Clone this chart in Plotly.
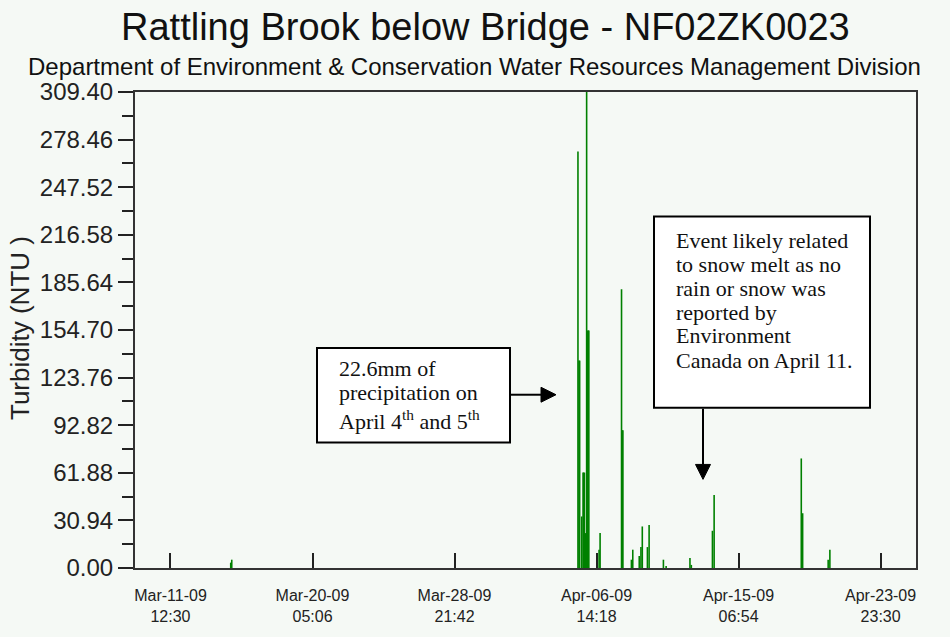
import plotly.graph_objects as go

# Turbidity readings (NTU) at Rattling Brook below Bridge, spring 2009
sample_times = [
    "2009-03-15 05:00", "2009-03-15 06:30",
    "2009-04-05 11:00", "2009-04-05 12:30", "2009-04-05 13:30",
    "2009-04-05 16:30", "2009-04-05 18:30", "2009-04-05 19:30",
    "2009-04-05 20:30", "2009-04-05 22:00", "2009-04-05 23:45",
    "2009-04-06 01:00", "2009-04-06 02:00", "2009-04-06 03:00",
    "2009-04-06 18:00", "2009-04-06 19:30",
    "2009-04-08 03:00", "2009-04-08 04:00", "2009-04-08 05:00",
    "2009-04-08 17:30", "2009-04-08 19:30",
    "2009-04-09 05:00", "2009-04-09 07:30", "2009-04-09 09:30",
    "2009-04-09 17:00", "2009-04-09 19:30",
    "2009-04-10 16:30", "2009-04-10 20:30",
    "2009-04-12 07:30", "2009-04-12 09:30",
    "2009-04-13 16:30", "2009-04-13 19:00",
    "2009-04-19 03:00", "2009-04-19 05:00",
    "2009-04-20 18:30", "2009-04-20 21:00",
]
turbidity_ntu = [
    3.5, 5.4,
    270.8, 134.8, 134.8,
    33.5, 62.0, 62.0,
    62.0, 22.7, 309.4,
    154.3, 154.3, 154.3,
    11.9, 22.7,
    181.2, 89.5, 89.5,
    5.4, 11.9,
    7.8, 13.6, 27.0,
    13.6, 28.0,
    5.4, 1.3,
    6.5, 2.0,
    24.2, 47.5,
    71.2, 35.6,
    5.4, 11.9,
]

# Axis ticks
x_tick_times = [
    "2009-03-11 12:30", "2009-03-20 05:06", "2009-03-28 21:42",
    "2009-04-06 14:18", "2009-04-15 06:54", "2009-04-23 23:30",
]
x_tick_labels = [
    "Mar-11-09<br>12:30", "Mar-20-09<br>05:06", "Mar-28-09<br>21:42",
    "Apr-06-09<br>14:18", "Apr-15-09<br>06:54", "Apr-23-09<br>23:30",
]
y_tick_values = [0.00, 30.94, 61.88, 92.82, 123.76, 154.70,
                 185.64, 216.58, 247.52, 278.46, 309.40]
y_tick_labels = [f"{v:.2f}" for v in y_tick_values]
y_minor_values = [(a + b) / 2 for a, b in zip(y_tick_values[:-1], y_tick_values[1:])]

x_range = ["2009-03-09 08:24", "2009-04-26 03:30"]

# Page geometry (pixels)
W, H = 950, 637
L, R, T, B = 135, 34, 92, 67
PW, PH = W - L - R, H - T - B


def px(x):
    return (x - L) / PW


def py(y):
    return (H - B - y) / PH


# Each reading drawn as a vertical stroke from zero up to its value
xs, ys = [], []
for t, v in zip(sample_times, turbidity_ntu):
    xs += [t, t, None]
    ys += [0, v, None]

bg = "#f5f9f5"
fig = go.Figure()
fig.add_trace(go.Scatter(
    x=xs, y=ys, mode="lines",
    line=dict(color="#008000", width=1.6),
    hoverinfo="skip", showlegend=False,
))

sans = "Liberation Sans, Arial, sans-serif"

fig.update_layout(
    width=W, height=H,
    margin=dict(l=L, r=R, t=T, b=B),
    paper_bgcolor=bg, plot_bgcolor=bg,
    showlegend=False,
    font=dict(family=sans, color="#222"),
)
fig.update_xaxes(
    type="date", range=x_range,
    tickmode="array", tickvals=x_tick_times, ticktext=x_tick_labels,
    ticks="inside", ticklen=15, tickwidth=2, tickcolor="#222",
    tickfont=dict(size=16, family=sans, color="#222"),
    ticklabelstandoff=12,
    showline=True, linecolor="#333", linewidth=2, mirror=True,
    showgrid=False, zeroline=False,
)
fig.update_yaxes(
    range=[0, 309.4],
    tickmode="array", tickvals=y_tick_values, ticktext=y_tick_labels,
    ticks="outside", ticklen=15, tickwidth=2, tickcolor="#222",
    minor=dict(tickmode="array", tickvals=y_minor_values,
               ticks="outside", ticklen=11, tickwidth=2, tickcolor="#222",
               showgrid=False),
    tickfont=dict(size=24, family=sans, color="#222"),
    showline=True, linecolor="#333", linewidth=2, mirror=True,
    showgrid=False, zeroline=False,
)

annotations = [
    dict(text="Rattling Brook below Bridge - NF02ZK0023",
         x=px(485.5), y=py(27), xref="paper", yref="paper",
         xanchor="center", yanchor="middle", showarrow=False,
         font=dict(size=38, family=sans, color="#111")),
    dict(text="Department of Environment &amp; Conservation Water Resources Management Division",
         x=px(474), y=py(66), xref="paper", yref="paper",
         xanchor="center", yanchor="middle", showarrow=False,
         font=dict(size=24, family=sans, color="#111")),
    dict(text="Turbidity (NTU )", textangle=-90,
         x=px(20), y=py(329), xref="paper", yref="paper",
         xanchor="center", yanchor="middle", showarrow=False,
         font=dict(size=26, family=sans, color="#222")),
]

serif = dict(size=22, family="Liberation Serif, Times New Roman, serif", color="#111")

# Note boxes
shapes = [
    dict(type="rect", xref="paper", yref="paper",
         x0=px(317), x1=px(510), y0=py(444), y1=py(349),
         line=dict(color="#000", width=2), fillcolor="#fff", layer="above"),
    dict(type="rect", xref="paper", yref="paper",
         x0=px(654), x1=px(870), y0=py(409), y1=py(217),
         line=dict(color="#000", width=2), fillcolor="#fff", layer="above"),
]

note1 = ["22.6mm of", "precipitation on", "April 4<sup>th</sup> and 5<sup>th</sup>"]
note1_y = [370, 394, 421]
for line, y in zip(note1, note1_y):
    annotations.append(dict(text=line, x=px(337), y=py(y), xref="paper", yref="paper",
                            xanchor="left", yanchor="middle", showarrow=False, font=serif))

note2 = ["Event likely related", "to snow melt as no", "rain or snow was",
         "reported by", "Environment", "Canada on April 11."]
note2_y = [241, 265, 289, 313, 337, 362]
for line, y in zip(note2, note2_y):
    annotations.append(dict(text=line, x=px(674), y=py(y), xref="paper", yref="paper",
                            xanchor="left", yanchor="middle", showarrow=False, font=serif))


def arrow(x0, y0, x1, y1, head=15):
    """Shaft from (x0, y0) to the tip (x1, y1), with a filled triangular head (pixels)."""
    dx, dy = x1 - x0, y1 - y0
    n = (dx * dx + dy * dy) ** 0.5
    ux, uy = dx / n, dy / n
    bx, by = x1 - ux * head, y1 - uy * head
    hw = head / 2
    p1 = (bx - uy * hw, by + ux * hw)
    p2 = (bx + uy * hw, by - ux * hw)
    path = (f"M{px(x1)},{py(y1)} L{px(p1[0])},{py(p1[1])} "
            f"L{px(p2[0])},{py(p2[1])} Z")
    return [
        dict(type="line", xref="paper", yref="paper",
             x0=px(x0), y0=py(y0), x1=px(bx), y1=py(by),
             line=dict(color="#000", width=2), layer="above"),
        dict(type="path", xref="paper", yref="paper", path=path,
             fillcolor="#000", line=dict(color="#000", width=1), layer="above"),
    ]


shapes += arrow(510, 396, 556, 396)
shapes += arrow(703, 410, 703, 481)

fig.update_layout(annotations=annotations, shapes=shapes)
fig.write_html("out.html")
